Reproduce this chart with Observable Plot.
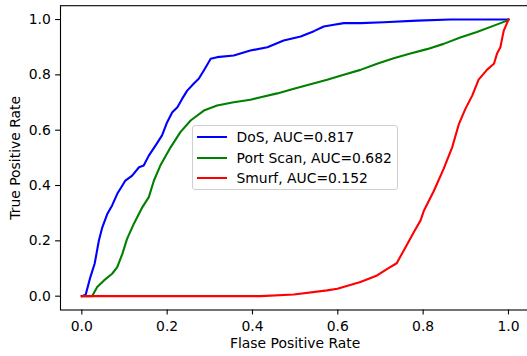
<!DOCTYPE html>
<html>
<head>
<meta charset="utf-8">
<script src="https://cdn.jsdelivr.net/npm/d3@7"></script>
<script src="https://cdn.jsdelivr.net/npm/@observablehq/plot@0.6"></script>
<style>
  html, body { margin: 0; padding: 0; background: white; }
  #wrap { position: relative; width: 527px; height: 356px; overflow: hidden; font-family: "DejaVu Sans", sans-serif; }
  #legend { position: absolute; left: 191.5px; top: 124.5px; width: 204px; height: 63.5px;
    border: 1px solid #cfcfcf; border-radius: 3px; background: rgba(255,255,255,0.8); box-sizing: content-box; }
  .row { position: absolute; left: 0; height: 20px; line-height: 20px; font-size: 13.9px; color: black; white-space: nowrap; }
  .sw { position: absolute; left: 4px; width: 30px; height: 2.1px; top: 8.9px; }
  .lb { position: absolute; left: 44px; top: 0; }
</style>
</head>
<body>
<div id="wrap"></div>
<script>
const seriesNames = ["DoS", "Port Scan", "Smurf"];
const aucs = ["0.817", "0.682", "0.152"];
const colors = ["#0000ff", "#008000", "#ff0000"];
const tickValues = [0, 0.2, 0.4, 0.6, 0.8, 1.0];
const xLabel = "Flase Positive Rate";
const yLabel = "True Positive Rate";

const fprDoS = [0, 0.009, 0.020, 0.030, 0.040, 0.048, 0.060, 0.071, 0.083, 0.095, 0.102, 0.118, 0.134, 0.145, 0.157, 0.173, 0.188, 0.200, 0.212, 0.224, 0.235, 0.247, 0.262, 0.274, 0.286, 0.302, 0.317, 0.356, 0.395, 0.435, 0.473, 0.513, 0.544, 0.567, 0.591, 0.614, 0.653, 0.708, 0.786, 0.864, 1.0];
const tprDoS = [0, 0.005, 0.069, 0.117, 0.201, 0.249, 0.298, 0.328, 0.370, 0.400, 0.418, 0.436, 0.466, 0.472, 0.508, 0.545, 0.581, 0.629, 0.665, 0.683, 0.713, 0.743, 0.768, 0.786, 0.816, 0.858, 0.864, 0.870, 0.888, 0.900, 0.924, 0.939, 0.958, 0.975, 0.981, 0.987, 0.987, 0.990, 0.996, 1.0, 1.0];

const fprPort = [0, 0.024, 0.036, 0.052, 0.071, 0.083, 0.095, 0.106, 0.122, 0.142, 0.157, 0.169, 0.184, 0.208, 0.231, 0.255, 0.286, 0.317, 0.356, 0.395, 0.419, 0.458, 0.497, 0.536, 0.575, 0.614, 0.653, 0.692, 0.731, 0.770, 0.809, 0.848, 0.887, 0.926, 0.966, 0.997, 1.0];
const tprPort = [0, 0, 0.033, 0.057, 0.081, 0.105, 0.153, 0.207, 0.262, 0.322, 0.358, 0.418, 0.472, 0.538, 0.593, 0.635, 0.671, 0.689, 0.701, 0.710, 0.719, 0.733, 0.750, 0.766, 0.782, 0.800, 0.818, 0.840, 0.860, 0.877, 0.893, 0.912, 0.935, 0.955, 0.978, 0.996, 1.0];

const fprSmurf = [0, 0.419, 0.497, 0.575, 0.599, 0.653, 0.692, 0.716, 0.738, 0.763, 0.778, 0.794, 0.802, 0.825, 0.848, 0.868, 0.884, 0.899, 0.915, 0.930, 0.950, 0.966, 0.973, 0.981, 0.985, 0.989, 1.0];
const tprSmurf = [0, 0, 0.006, 0.021, 0.027, 0.051, 0.075, 0.099, 0.119, 0.189, 0.231, 0.274, 0.310, 0.380, 0.460, 0.538, 0.623, 0.677, 0.725, 0.783, 0.819, 0.840, 0.876, 0.900, 0.930, 0.960, 1.0];

const curves = [[fprDoS, tprDoS], [fprPort, tprPort], [fprSmurf, tprSmurf]];
const rows = [];
curves.forEach(([xs, ys], i) => xs.forEach((x, j) => rows.push({series: seriesNames[i], fpr: x, tpr: ys[j]})));

const fmt = d3.format(".1f");
const chart = Plot.plot({
  width: 527,
  height: 356,
  marginLeft: 60,
  marginTop: 5.2,
  marginBottom: 46.5,
  marginRight: -2.3,
  style: {fontFamily: "DejaVu Sans, sans-serif", fontSize: "13.9px", color: "black", background: "white"},
  x: {domain: [-0.05, 1.05]},
  y: {domain: [-0.05, 1.05]},
  color: {domain: seriesNames, range: colors},
  marks: [
    Plot.line(rows, {x: "fpr", y: "tpr", z: "series", stroke: "series", strokeWidth: 2.1, strokeLinejoin: "round", strokeLinecap: "square"}),
    Plot.frame({stroke: "black", strokeWidth: 1.1}),
    Plot.axisX({ticks: tickValues, tickFormat: fmt, tickSize: 4.9, tickPadding: 6.4, label: null, fontSize: 13.9, strokeWidth: 1.1}),
    Plot.axisY({ticks: tickValues, tickFormat: fmt, tickSize: 4.9, tickPadding: 4.8, label: null, fontSize: 13.9, strokeWidth: 1.1}),
    Plot.text([xLabel], {text: d => d, frameAnchor: "bottom", dy: 33.5, textAnchor: "middle", lineAnchor: "middle", fontSize: 13.9, fill: "black"}),
    Plot.text([yLabel], {text: d => d, frameAnchor: "left", dx: -45, rotate: -90, textAnchor: "middle", lineAnchor: "middle", fontSize: 13.9, fill: "black"})
  ]
});
const wrap = document.getElementById("wrap");
wrap.appendChild(chart);

const legend = document.createElement("div");
legend.id = "legend";
const rowTops = [1.5, 22.2, 42.9];
seriesNames.forEach((name, i) => {
  const r = document.createElement("div");
  r.className = "row";
  r.style.top = rowTops[i] + "px";
  const sw = document.createElement("div");
  sw.className = "sw";
  sw.style.background = colors[i];
  const lb = document.createElement("div");
  lb.className = "lb";
  lb.textContent = `${name}, AUC=${aucs[i]}`;
  r.appendChild(sw);
  r.appendChild(lb);
  legend.appendChild(r);
});
wrap.appendChild(legend);
</script>
</body>
</html>
